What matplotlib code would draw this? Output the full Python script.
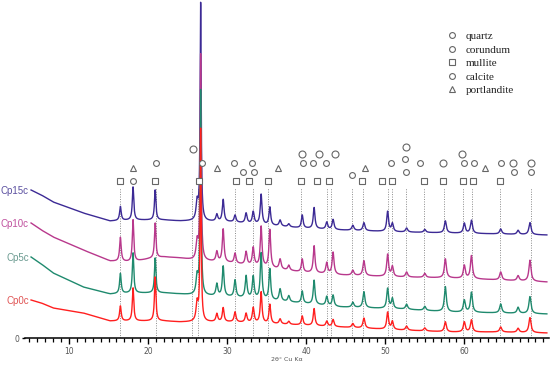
import numpy as np
import matplotlib
matplotlib.use("Agg")
import matplotlib.pyplot as plt
from matplotlib.lines import Line2D

# ---------------- data ----------------
samples = ["Cp0c", "Cp5c", "Cp10c", "Cp15c"]

# background control points (2theta, intensity) per sample
bg_2theta = [5.2, 6.5, 8.0, 11.8, 15.2, 18.0, 20.0, 22.0, 24.0, 25.7, 30.4, 39.2, 44.3, 51.9, 58.2, 64.5, 70.4]
bg_cp0c  = [38, 35, 30, 25, 17, 17, 17, 17, 16, 16, 16, 13, 11, 8, 6, 6, 5]
bg_cp5c  = [81, 74, 65, 51, 44, 45, 45, 45, 44, 43, 41, 35, 31, 29, 26, 25, 24]
bg_cp10c = [115, 108, 101, 88, 77, 76, 79, 81, 80, 78, 75, 66, 63, 61, 60, 58, 56]
bg_cp15c = [148, 143, 136, 125, 117, 118, 118, 118, 117, 117, 116, 110, 108, 106, 105, 104, 103]

# reflections (2theta) and peak heights above background per sample
peak_2theta = [16.5, 18.1, 20.9, 26.2, 26.65, 28.7, 29.5, 31.0, 32.4, 33.3, 34.3, 35.4, 36.7, 37.8,
               39.5, 41.0, 42.6, 43.4, 45.9, 47.3, 50.3, 50.9, 52.7, 55.0, 57.6, 60.0, 60.9, 64.6, 66.8, 68.3]
h_cp0c  = [15, 33, 44, 18, 192, 8, 14, 10, 9, 15, 31, 19, 5, 3, 9, 17, 5, 7, 4, 10, 17, 8, 4, 3, 10, 10, 12, 5, 4, 15]
h_cp5c  = [20, 40, 35, 18, 204, 12, 30, 17, 22, 22, 46, 31, 12, 6, 12, 24, 9, 11, 5, 16, 20, 10, 5, 4, 25, 12, 20, 9, 6, 17]
h_cp10c = [24, 42, 35, 18, 205, 10, 33, 10, 13, 18, 40, 38, 10, 5, 13, 27, 11, 22, 5, 15, 22, 10, 5, 4, 19, 13, 23, 8, 5, 21]
h_cp15c = [14, 33, 30, 18, 217, 7, 22, 7, 10, 12, 30, 18, 6, 3, 13, 21, 7, 10, 5, 8, 20, 8, 4, 3, 12, 10, 13, 5, 4, 12]
peak_hwhm = [0.12, 0.11, 0.11, 0.15, 0.08, 0.14, 0.13, 0.14, 0.14, 0.14, 0.13, 0.13, 0.15, 0.15,
             0.13, 0.13, 0.14, 0.14, 0.16, 0.15, 0.14, 0.14, 0.16, 0.16, 0.15, 0.15, 0.15, 0.16, 0.16, 0.16]

# phase markers: 2theta position and marker tier
quartz_2theta   = [20.95, 26.86, 39.56, 40.9, 42.5, 45.76, 50.73, 54.4, 59.96, 66.3, 68.47]
quartz_tier     = [2, 2, 2, 2, 2, 1.5, 2, 2, 2, 1, 1]
corundum_2theta = [25.65, 39.51, 41.66, 43.6, 52.63, 57.34, 59.7, 66.2, 68.47]
corundum_tier   = [4, 3, 3, 3, 4.2, 2, 3, 2, 2]
calcite_2theta  = [18.13, 30.87, 32.05, 33.1, 33.4, 52.54, 52.63, 61.23, 64.6]
calcite_tier    = [0, 2, 1, 2, 1, 2.8, 1, 2, 2]
mullite_2theta  = [16.45, 20.88, 26.44, 31.08, 32.77, 35.13, 39.38, 41.37, 42.92, 47.1, 49.55,
                   50.89, 54.94, 57.34, 59.8, 61.06, 64.5]
portlandite_2theta = [18.13, 28.76, 36.4, 47.4, 62.6]

ref_lines = [16.45, 20.95, 25.6, 26.3, 31.0, 33.3, 35.15, 39.4, 42.6, 43.1, 45.8, 47.2,
             50.3, 50.8, 52.6, 54.9, 57.4, 59.8, 61.0, 64.5, 68.4]

# ---------------- style ----------------
colors = {"Cp0c": "#ff1f1f", "Cp5c": "#1f8a6e", "Cp10c": "#b8388c", "Cp15c": "#3c2a95"}
label_colors = {"Cp0c": "#e05555", "Cp5c": "#6a9a90", "Cp10c": "#c0509e", "Cp15c": "#5b50a0"}
tier_y = {0: 157, 1: 166, 1.5: 163, 2: 175, 2.8: 179, 3: 184, 4: 189, 4.2: 191}
mk_edge = "#666666"

bgs = {"Cp0c": bg_cp0c, "Cp5c": bg_cp5c, "Cp10c": bg_cp10c, "Cp15c": bg_cp15c}
hs = {"Cp0c": h_cp0c, "Cp5c": h_cp5c, "Cp10c": h_cp10c, "Cp15c": h_cp15c}

x = np.arange(5.2, 70.45, 0.01)


def pattern(name):
    y = np.interp(x, bg_2theta, bgs[name])
    for c, h, w in zip(peak_2theta, hs[name], peak_hwhm):
        y = y + h / (1.0 + ((x - c) / w) ** 2)
    return y


fig = plt.figure(figsize=(5.5, 3.73), dpi=100)
ax = fig.add_axes([25 / 550, 35 / 373, 524 / 550, 338 / 373])
ax.set_xlim(4.435, 70.71)
ax.set_ylim(0, 338)

ax.vlines(ref_lines, 0, 150, colors="#8a8a8a", linestyles=(0, (1, 1.5)), linewidth=0.7, zorder=1)

order = ["Cp15c", "Cp10c", "Cp5c", "Cp0c"]
for i, name in enumerate(order):
    y = pattern(name)
    ax.plot(x, y, color=colors[name], lw=1.0, zorder=2 + i)
    ax.annotate(name, xy=(x[0], bgs[name][0]), xytext=(-1.5, -1), textcoords="offset points",
                ha="right", va="center", fontsize=7, color=label_colors[name],
                family="Liberation Sans", annotation_clip=False)

mk = dict(linestyle="none", markerfacecolor="white", markeredgecolor=mk_edge, markeredgewidth=0.8)
ax.plot(quartz_2theta, [tier_y[t] for t in quartz_tier], marker="o", markersize=4.2, zorder=10, **mk)
ax.plot(corundum_2theta, [tier_y[t] for t in corundum_tier], marker="o", markersize=5.0, zorder=10, **mk)
ax.plot(calcite_2theta, [tier_y[t] for t in calcite_tier], marker="o", markersize=4.2, zorder=10, **mk)
ax.plot(mullite_2theta, [tier_y[0]] * len(mullite_2theta), marker="s", markersize=4.2, zorder=10, **mk)
ax.plot(portlandite_2theta, [170] * len(portlandite_2theta), marker="^", markersize=4.8, zorder=10, **mk)

handles = [
    Line2D([], [], marker="o", markersize=4.2, **mk),
    Line2D([], [], marker="o", markersize=4.2, **mk),
    Line2D([], [], marker="s", markersize=4.0, **mk),
    Line2D([], [], marker="o", markersize=4.2, **mk),
    Line2D([], [], marker="^", markersize=4.4, **mk),
]
leg = ax.legend(handles, ["quartz", "corundum", "mullite", "calcite", "portlandite"],
                loc="upper left", bbox_to_anchor=(446.5 / 550, 1 - 31.5 / 373),
                bbox_transform=fig.transFigure, frameon=False, borderpad=0, borderaxespad=0,
                handlelength=1.0, handletextpad=0.75, labelspacing=0.33,
                prop={"family": "Liberation Serif", "size": 8})
for t in leg.get_texts():
    t.set_color("#222222")

for s in ["top", "right", "left"]:
    ax.spines[s].set_visible(False)
ax.spines["bottom"].set_linewidth(1.1)
ax.set_xticks([10, 20, 30, 40, 50, 60])
ax.set_xticks(np.arange(5, 71, 1), minor=True)
ax.tick_params(axis="x", which="major", length=4.5, width=1.0, pad=1.8, labelsize=5.5, labelcolor="#555555")
ax.tick_params(axis="x", which="minor", length=3.0, width=0.9)
ax.set_yticks([0])
ax.tick_params(axis="y", length=2.5, width=1.0, pad=1.5, labelsize=5.5, labelcolor="#555555")
ax.set_xlabel("2θ° Cu Kα", fontsize=4.5, color="#555555", labelpad=1)

fig.savefig("out.png", dpi=100)
